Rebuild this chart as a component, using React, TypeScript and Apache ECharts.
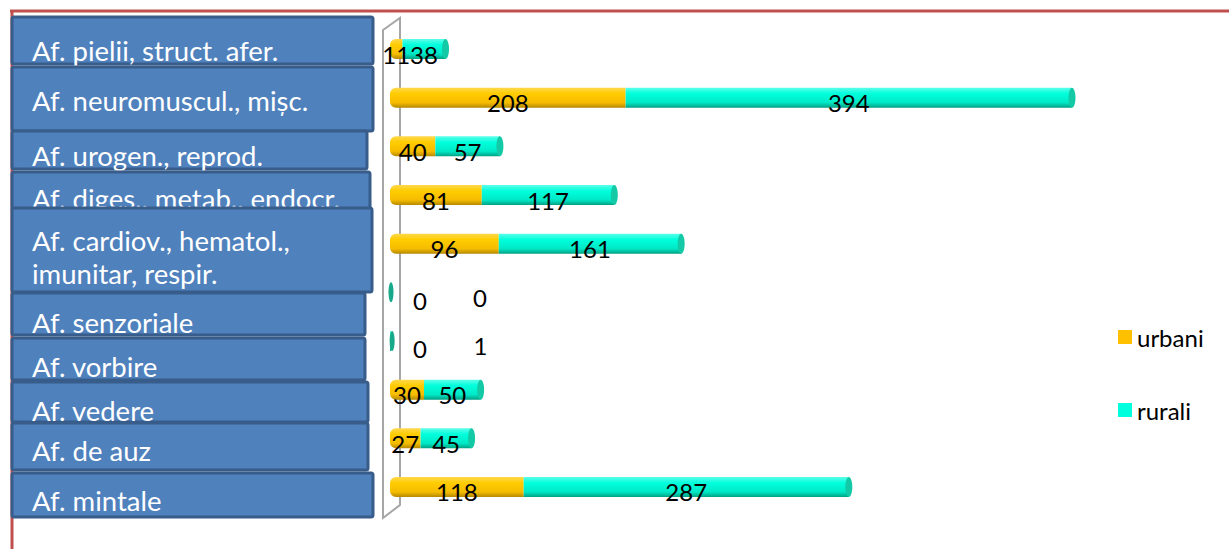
import React, { useEffect, useRef } from "react";
import * as echarts from "echarts";

const categories = [
  "Af. pielii, struct. afer.",
  "Af. neuromuscul., mișc.",
  "Af. urogen., reprod.",
  "Af. diges., metab., endocr.",
  "Af. cardiov., hematol.,\nimunitar, respir.",
  "Af. senzoriale",
  "Af. vorbire",
  "Af. vedere",
  "Af. de auz",
  "Af. mintale",
];
const urbani = [11, 208, 40, 81, 96, 0, 0, 30, 27, 118];
const rurali = [38, 394, 57, 117, 161, 0, 1, 50, 45, 287];
const seriesNames = ["urbani", "rurali"];

// decorative text-box layout: [x1, y1, x2, y2, textCenterY]
const boxLayout = [
  [12, 17, 373, 64, 50],
  [12, 67, 373, 131, 100],
  [12, 131, 367, 169, 155],
  [12, 172, 370, 210, 198],
  [12, 208, 372, 292, 257],
  [12, 293, 365, 335, 322],
  [12, 338, 365, 380, 366],
  [12, 382, 368, 422, 410],
  [12, 423, 368, 470, 450],
  [12, 473, 373, 517, 500],
];

const FONT = "Lato, 'Open Sans', sans-serif";

export default function App() {
  const ref = useRef<HTMLDivElement>(null);
  useEffect(() => {
    if (!ref.current) return;
    const chart = echarts.init(ref.current, null, { renderer: "svg" });
    const orangeGrad = new echarts.graphic.LinearGradient(0, 0, 0, 1, [
      { offset: 0, color: "#FFD84D" },
      { offset: 0.3, color: "#FFCC00" },
      { offset: 0.75, color: "#F5BC00" },
      { offset: 1, color: "#B58900" },
    ]);
    const tealGrad = new echarts.graphic.LinearGradient(0, 0, 0, 1, [
      { offset: 0, color: "#5CFFEA" },
      { offset: 0.3, color: "#00FFDC" },
      { offset: 0.75, color: "#00E8C6" },
      { offset: 1, color: "#00A083" },
    ]);

    const graphics: any[] = [
      { type: "line", z: 1, shape: { x1: 10, y1: 11, x2: 1229, y2: 11 }, style: { stroke: "#C0504D", lineWidth: 3 } },
      { type: "line", z: 1, shape: { x1: 12, y1: 10, x2: 12, y2: 549 }, style: { stroke: "#C0504D", lineWidth: 3 } },
      {
        type: "polygon",
        z: 1,
        shape: { points: [[383, 30], [400, 18], [400, 505], [383, 518]] },
        style: { fill: "none", stroke: "#A6A6A6", lineWidth: 2 },
      },
    ];
    categories.forEach((c, i) => {
      const [x1, y1, x2, y2, ty] = boxLayout[i];
      graphics.push({
        type: "rect",
        z: 10,
        shape: { x: x1, y: y1, width: x2 - x1, height: y2 - y1, r: 2 },
        style: { fill: "#4F81BD", stroke: "#385D8A", lineWidth: 3 },
      });
      graphics.push({
        type: "text",
        z: 10,
        x: 32,
        y: ty,
        style: {
          text: c,
          fill: "#FFFFFF",
          fontSize: 27.5,
          fontFamily: FONT,
          verticalAlign: "middle",
          align: "left",
          lineHeight: 33,
        },
      });
    });

    const labelBase = {
      show: true,
      position: "inside" as const,
      color: "#000",
      fontSize: 24,
      fontFamily: FONT,
    };

    chart.setOption({
      animation: false,
      grid: { left: 390, width: 793, top: 24.67, bottom: 37.67, containLabel: false },
      xAxis: {
        type: "value",
        min: 0,
        max: 700,
        show: false,
      },
      yAxis: {
        type: "category",
        data: categories,
        inverse: true,
        show: false,
      },
      legend: {
        orient: "vertical",
        left: 1113,
        top: 320,
        itemWidth: 14,
        itemHeight: 14,
        itemGap: 49,
        icon: "rect",
        textStyle: { fontSize: 24, fontFamily: FONT, color: "#000" },
        data: [
          { name: seriesNames[0], itemStyle: { color: "#FFC000" } },
          { name: seriesNames[1], itemStyle: { color: "#00FFDD" } },
        ],
      },
      graphic: graphics,
      series: [
        {
          name: seriesNames[0],
          type: "bar",
          stack: "total",
          barWidth: 20,
          z: 2,
          itemStyle: { color: orangeGrad, borderRadius: [6, 0, 0, 6] },
          label: { ...labelBase, offset: [0, 5] },
          data: urbani.map((v) =>
            v === 0 ? { value: v, label: { offset: [30, 8] } } : { value: v }
          ),
        },
        {
          name: seriesNames[1],
          type: "bar",
          stack: "total",
          barWidth: 20,
          z: 2,
          itemStyle: { color: tealGrad },
          label: { ...labelBase, offset: [0, 5] },
          data: rurali.map((v) =>
            v <= 1 ? { value: v, label: { offset: [90, 5] } } : { value: v }
          ),
        },
        {
          name: "cap",
          type: "custom",
          z: 3,
          silent: true,
          encode: { x: 0, y: 1 },
          data: urbani.map((u, i) => [u + rurali[i], i]),
          renderItem: (params: any, api: any) => {
            const p = api.coord([api.value(0), api.value(1)]);
            const empty = api.value(0) <= 1;
            return {
              type: "ellipse",
              shape: { cx: p[0] + (empty ? 1 : 0), cy: p[1], rx: empty ? 2.5 : 3.5, ry: 10 },
              style: { fill: empty ? "#17A98A" : "#14C9A5" },
            };
          },
        },
      ],
    });
    return () => chart.dispose();
  }, []);
  return (
    <div
      ref={ref}
      style={{ position: "fixed", left: 0, top: 0, width: 1229, height: 549, background: "#fff" }}
    />
  );
}
